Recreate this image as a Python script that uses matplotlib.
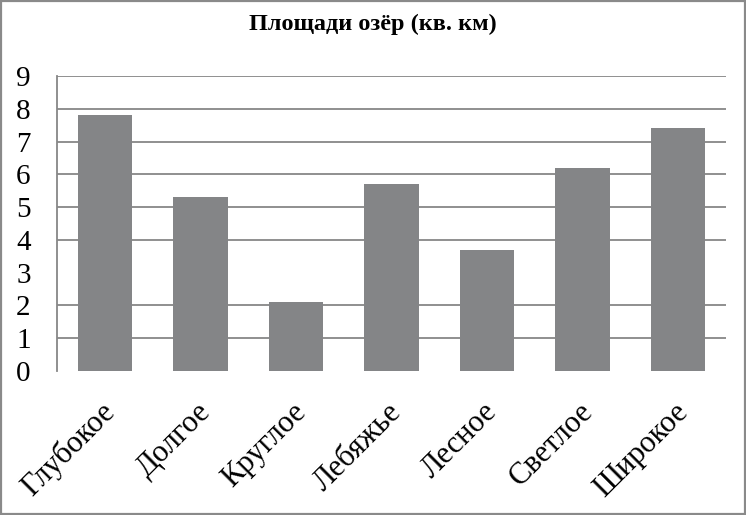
import numpy as np
import matplotlib
matplotlib.use('Agg')
import matplotlib.pyplot as plt
from matplotlib.patches import Rectangle

#%% DATA
lakes = ['Глубокое', 'Долгое', 'Круглое', 'Лебяжье', 'Лесное', 'Светлое', 'Широкое']
area_km2 = [7.8, 5.3, 2.1, 5.7, 3.7, 6.2, 7.4]
yticks = [0, 1, 2, 3, 4, 5, 6, 7, 8, 9]
gridvals = [1, 2, 4, 5, 6, 7, 8, 9]   # no line at 3 in the original
title = 'Площади озёр (кв. км)'

#%% STYLE
plt.rcParams['font.family'] = ['Liberation Serif', 'DejaVu Serif']
bar_color = '#848587'
grid_color = '#878787'

#%% PLOT
f = plt.figure(figsize=(7.46, 5.15), dpi=100)
ax = f.add_axes([57/746, 1 - 371/515, 669/746, 295/515])

x = np.arange(len(lakes))
ax.bar(x, area_km2, width=0.57, color=bar_color, zorder=2)

ax.set_xlim(-0.5, len(lakes) - 0.5)
ax.set_ylim(0, 9)
ax.set_yticks(yticks)
ax.set_yticklabels([str(v) for v in yticks], fontsize=21)
ax.tick_params(axis='y', length=0, pad=19)
ax.tick_params(axis='x', length=0, labelbottom=False)

for v in gridvals:
    ax.axhline(v, color=grid_color, lw=1.3, zorder=1)

for side in ['top', 'right', 'bottom']:
    ax.spines[side].set_visible(False)
ax.spines['left'].set_color(grid_color)
ax.spines['left'].set_linewidth(1.3)

# rotated category labels, ending just under each bar centre
for i, name in enumerate(lakes):
    ax.text(i + 0.06, -1.12, name, fontsize=22,
            rotation=45, rotation_mode='anchor', ha='right', va='center',
            clip_on=False)

f.text(0.4995, 1 - 24/515, title, ha='center', va='center',
       fontsize=17.5, fontweight='bold')

# frame around the whole picture
f.patches.append(Rectangle((1/746, 1/515), 744/746, 513/515, transform=f.transFigure,
                           fill=False, edgecolor='#8a8a8a', lw=1.6))

plt.savefig('out.png', dpi=100)
